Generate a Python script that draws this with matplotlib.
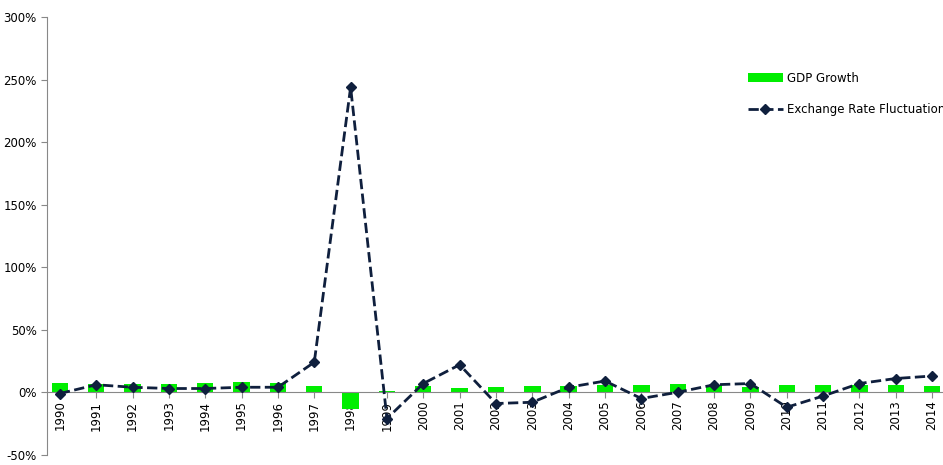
import matplotlib.pyplot as plt
import numpy as np
from matplotlib.ticker import FuncFormatter

years = [str(y) for y in range(1990, 2015)]
gdp = [7.2, 7.0, 6.5, 6.8, 7.5, 8.2, 7.8, 4.7, -13.1, 0.8, 4.9, 3.6, 4.5, 4.8, 5.0,
       5.7, 5.5, 6.3, 6.0, 4.6, 6.2, 6.2, 6.0, 5.6, 5.0]
fx = [-1, 6, 4, 3, 3, 4, 4, 24, 244, -21, 7, 22, -9, -8, 4, 9, -5, 0, 6, 7, -12, -3,
      7, 11, 13]

fig = plt.figure(figsize=(9.43, 4.65), dpi=100)
ax = fig.add_axes([0.05, 0.022, 0.95, 0.941])
x = np.arange(len(years))
b = ax.bar(x, gdp, width=0.45, color='#00ee00', label='GDP Growth', zorder=2)
l, = ax.plot(x, fx, color='#0f1f3d', linestyle='--', linewidth=2, marker='D',
             markersize=5, label='Exchange Rate Fluctuation', zorder=3)

ax.set_xlim(-0.35, 24.3)
ax.set_ylim(-50, 300)
ax.set_yticks(range(-50, 301, 50))
ax.yaxis.set_major_formatter(FuncFormatter(lambda v, p: f'{v:.0f}%'))
ax.spines['bottom'].set_position(('data', 0))
ax.spines['top'].set_visible(False)
ax.spines['right'].set_visible(False)
ax.spines['left'].set_color('#888888')
ax.spines['bottom'].set_color('#888888')
ax.set_xticks(x)
ax.set_xticklabels(years, rotation=90, fontsize=8.5)
ax.tick_params(axis='y', labelsize=8.5, length=4, color='#888888')
ax.tick_params(axis='x', length=4, color='#888888', pad=2)
ax.legend([b, l], ['GDP Growth', 'Exchange Rate Fluctuation'],
          loc='upper left', bbox_to_anchor=(0.77, 0.9), frameon=False,
          fontsize=8.5, handlelength=3, labelspacing=1.6, handletextpad=0.3)
fig.savefig('out.png', dpi=100)
